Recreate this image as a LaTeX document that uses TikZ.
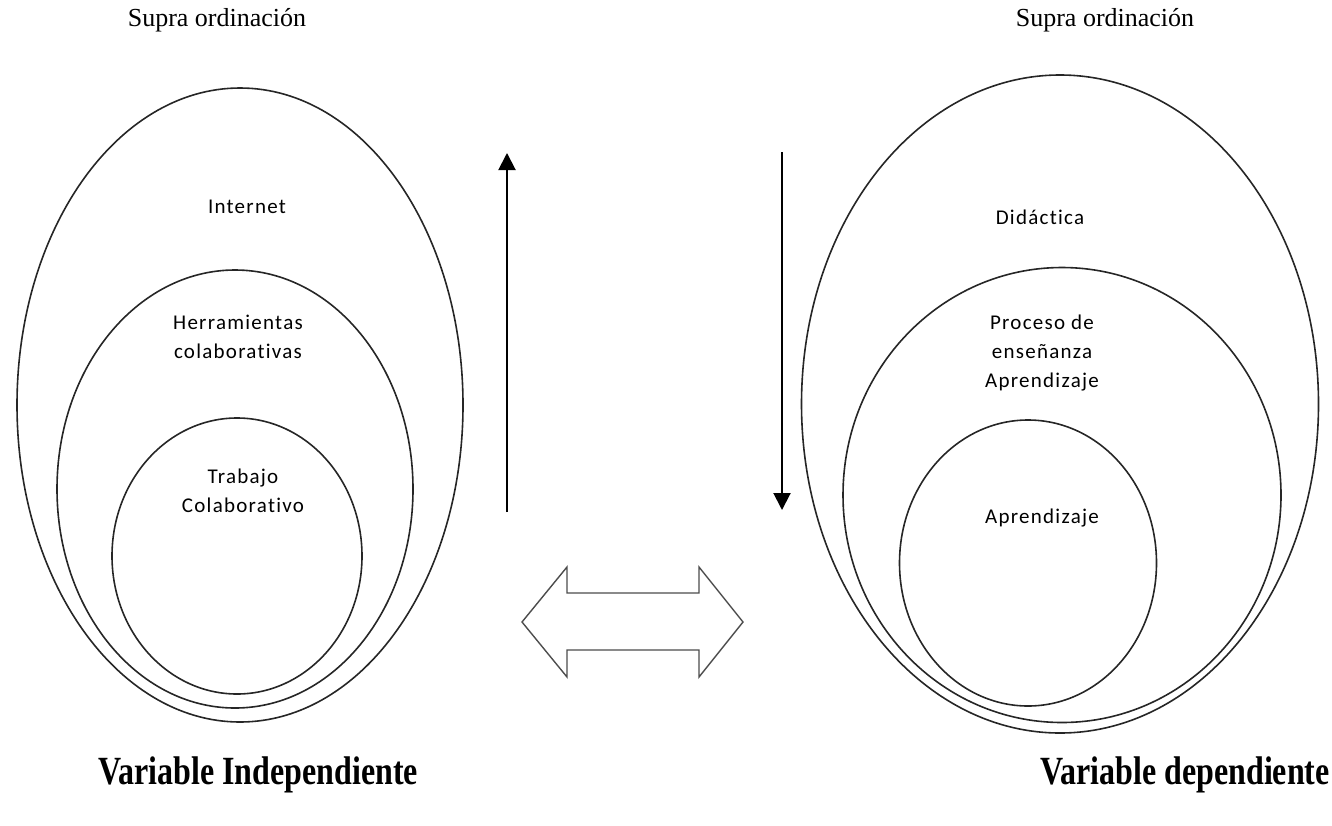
\documentclass[tikz,border=0pt]{standalone}
\usepackage{fontspec}
\setmainfont{Liberation Serif}
\newfontfamily\calib[LetterSpace=6,Ligatures={NoCommon}]{Carlito}
\usetikzlibrary{shapes.geometric,arrows.meta}
\begin{document}
\begin{tikzpicture}[x=1pt,y=-1pt,
  ring/.style={draw=black!85,line width=1.6pt,ellipse,inner sep=0pt},
  lbl/.style={font=\calib\fontsize{21}{29}\selectfont,align=center,inner sep=0pt},
  title/.style={font=\fontsize{26}{30}\selectfont,inner sep=0pt},
  varlbl/.style={font=\bfseries\fontsize{32}{36}\selectfont,inner sep=0pt},
  varrow/.style={line width=2pt,-{Triangle[length=17pt,width=17pt]}}]
\useasboundingbox (0,0) rectangle (1332,825);
% left set
\node[ring,minimum width=446pt,minimum height=634pt] (lo) at (240,405) {};
\node[ring,minimum width=356pt,minimum height=438pt] (lm) at (235,489) {};
\node[ring,minimum width=250pt,minimum height=276pt] (li) at (237,556) {};
% right set
\node[ring,minimum width=517pt,minimum height=658pt] (ro) at (1060,404) {};
\node[ring,minimum width=438pt,minimum height=455pt] (rm) at (1062,495) {};
\node[ring,minimum width=257pt,minimum height=286pt] (ri) at (1028,563) {};
% labels
\node[title] (t1) at (217,20) {Supra ordinación};
\node[title] (t2) at (1105,20) {Supra ordinación};
\node[lbl] (l1) at (247,207) {Internet};
\node[lbl] (l2) at (238,337) {Herramientas\\colaborativas};
\node[lbl] (l3) at (243,491) {Trabajo\\Colaborativo};
\node[lbl] (r1) at (1040,217) {Didáctica};
\node[lbl] (r2) at (1042,353) {Proceso de\\enseñanza\\Aprendizaje};
\node[lbl] (r3) at (1042,518) {Aprendizaje};
\node[varlbl,anchor=west] (v1) at (98,775) {\scalebox{1}[1.25]{Variable Independiente}};
\node[varlbl,anchor=east] (v2) at (1330,775) {\scalebox{1}[1.25]{Variable dependiente}};
% vertical arrows
\coordinate (a1s) at (507,512);
\coordinate (a1e) at (507,153);
\coordinate (a2s) at (782,152);
\coordinate (a2e) at (782,510);
\draw[varrow] (a1s) -- (a1e);
\draw[varrow] (a2s) -- (a2e);
% double arrow
\draw[draw=black!70,line width=1.4pt,line join=miter]
  (522,622) -- (567,567) -- (567,593) -- (699,593) -- (699,567) -- (743,622)
  -- (699,677) -- (699,650) -- (567,650) -- (567,677) -- cycle;
\end{tikzpicture}
\end{document}
